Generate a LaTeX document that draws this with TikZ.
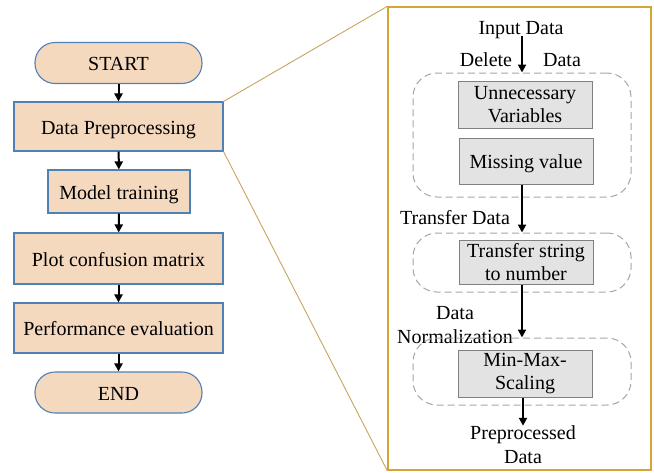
\documentclass[tikz,border=0pt]{standalone}
\usepackage{fontspec}
\setmainfont{Liberation Serif}
\usetikzlibrary{arrows.meta}
\definecolor{peach}{HTML}{F5D9BF}
\definecolor{stepblue}{HTML}{4F81B5}
\definecolor{goldline}{HTML}{C8A45E}
\definecolor{goldframe}{HTML}{D4A537}
\definecolor{boxgray}{HTML}{E3E3E3}
\definecolor{boxedge}{HTML}{808080}
\definecolor{dashgray}{HTML}{A6A6A6}
\tikzset{
  txt/.style={font=\fontsize{20pt}{24pt}\selectfont, text=black, align=center},
  oneline/.style={text height=19pt, text depth=4pt},
  stepbox/.style={txt, oneline, draw=stepblue, fill=peach, line width=1.1pt, inner sep=0pt},
  pill/.style={stepbox, rounded corners=20pt},
  graybox/.style={txt, draw=boxedge, fill=boxgray, line width=1pt, inner sep=0pt,
    minimum width=134pt},
  groupbox/.style={draw=dashgray, dash pattern=on 7pt off 4pt, line width=1pt,
    rounded corners=24pt, minimum width=218pt, inner sep=0pt},
  label/.style={txt, inner sep=0pt},
  flow/.style={line width=2pt, -{Triangle[length=8pt,width=8pt]}},
  zoomline/.style={draw=goldline, line width=0.9pt}
}
\begin{document}
\begin{tikzpicture}[x=1pt,y=-1pt]
\useasboundingbox (0,0) rectangle (654,472);

% main flowchart
\node[pill, minimum width=167pt, minimum height=41pt] (start) at (118.5,63) {START};
\node[stepbox, minimum width=209pt, minimum height=49pt] (dp) at (118.5,126.5) {Data Preprocessing};
\node[stepbox, minimum width=142pt, minimum height=43pt] (mt) at (119,191.5) {Model training};
\node[stepbox, minimum width=209pt, minimum height=51pt] (pcm) at (118.5,258.5) {Plot confusion matrix};
\node[stepbox, minimum width=209pt, minimum height=50pt] (pe) at (118.5,328) {Performance evaluation};
\node[pill, minimum width=167pt, minimum height=41pt] (end) at (118.5,392.5) {END};

\draw[flow] (start) -- (dp);
\draw[flow] (dp) -- (mt);
\draw[flow] (mt) -- (pcm);
\draw[flow] (pcm) -- (pe);
\draw[flow] (pe) -- (end);

% detail panel for the preprocessing step
\node[draw=goldframe, line width=1.4pt, minimum width=263pt, minimum height=463pt, inner sep=0pt] (panel) at (519.5,238.5) {};
\draw[zoomline] (dp.north east) -- (panel.north west);
\draw[zoomline] (dp.south east) -- (panel.south west);

\node[label] (input) at (521,30) {Input Data};
\node[label] (del) at (486,60) {Delete};
\node[label] (deldata) at (562,60) {Data};

\node[groupbox, minimum height=124pt] (g1) at (522,135) {};
\node[graybox, minimum height=47pt] (uv) at (525,104.5) {Unnecessary\\[-1pt]Variables};
\node[graybox, oneline, minimum height=46pt] (mv) at (526,161) {Missing value};

\node[label] (transfer) at (455,218) {Transfer Data};
\node[groupbox, minimum height=59pt] (g2) at (522,262.5) {};
\node[graybox, minimum height=44pt] (tsn) at (526,262) {Transfer string\\[-1pt]to number};

\node[label] (norm) at (455,325) {Data\\Normalization};
\node[groupbox, minimum height=67pt] (g3) at (522,371.5) {};
\node[graybox, minimum height=47pt] (mms) at (525,373.5) {Min-Max-\\[-1pt]Scaling};

\node[label] (out) at (523,445) {Preprocessed\\Data};

\draw[flow] (input.south -| g1.north) ++(0,3pt) -- (g1.north);
\draw[flow] (mv.south -| g2.north) -- (g2.north);
\draw[flow] (tsn.south -| g3.north) -- (g3.north);
\draw[flow] (mms.south -| out.north) -- (out.north);
\end{tikzpicture}
\end{document}
